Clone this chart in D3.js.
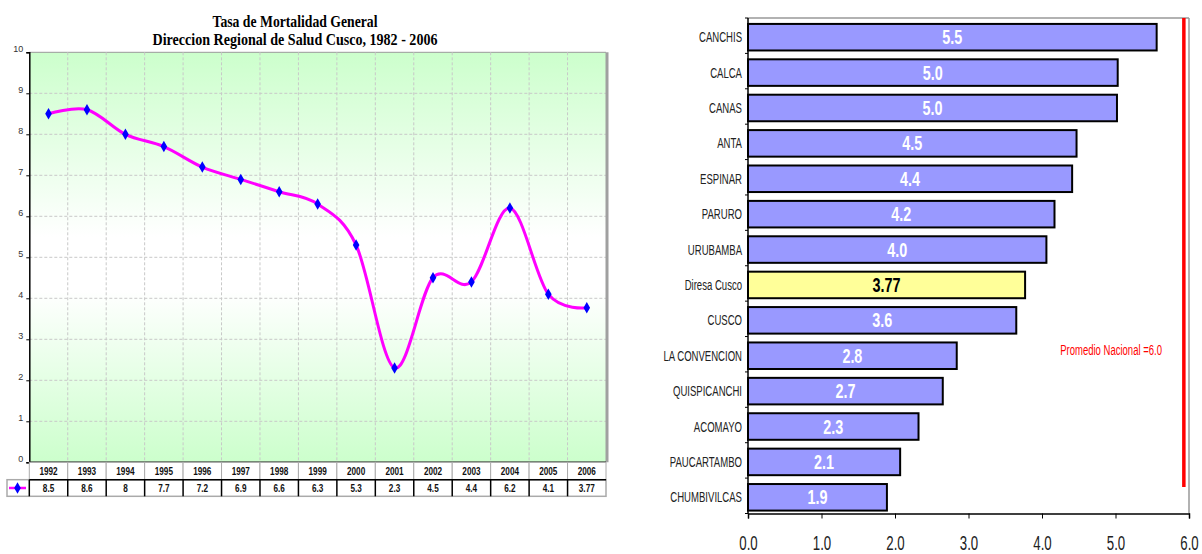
<!DOCTYPE html>
<html>
<head>
<meta charset="utf-8">
<script src="https://cdn.jsdelivr.net/npm/d3@7"></script>
<style>
  body { margin: 0; background: #fff; }
  svg { display: block; }
</style>
</head>
<body>
<div id="chart"></div>
<script>
// ---- left chart data ----
const years = ["1992","1993","1994","1995","1996","1997","1998","1999","2000","2001","2002","2003","2004","2005","2006"];
const rates = [8.5, 8.6, 8, 7.7, 7.2, 6.9, 6.6, 6.3, 5.3, 2.3, 4.5, 4.4, 6.2, 4.1, 3.77];
const yTicks = [0,1,2,3,4,5,6,7,8,9,10];
const titleLines = ["Tasa de Mortalidad General", "Direccion Regional de Salud Cusco, 1982 - 2006"];

// ---- right chart data ----
const provinces = ["CANCHIS","CALCA","CANAS","ANTA","ESPINAR","PARURO","URUBAMBA","Diresa Cusco","CUSCO","LA CONVENCION","QUISPICANCHI","ACOMAYO","PAUCARTAMBO","CHUMBIVILCAS"];
const provValues = [5.56, 5.03, 5.02, 4.47, 4.41, 4.17, 4.06, 3.77, 3.65, 2.84, 2.65, 2.32, 2.07, 1.89];
const provLabels = ["5.5","5.0","5.0","4.5","4.4","4.2","4.0","3.77","3.6","2.8","2.7","2.3","2.1","1.9"];
const xTicksRight = [0,1,2,3,4,5,6];
const nationalLine = [5.93];
const nationalText = "Promedio Nacional =6.0";

const sans = '"Liberation Sans", Arial, sans-serif';

// no Arial Narrow here: squeeze regular text horizontally instead
function squeeze(selection, sx){
    selection.each(function(){
        const t = d3.select(this);
        const x = +t.attr("x") || 0;
        const y = +t.attr("y") || 0;
        t.attr("x",0).attr("y",0)
         .attr("transform","translate("+x+","+y+") scale("+sx+",1)");
    });
}

const svg = d3.select("#chart").append("svg")
    .attr("width", 1202)
    .attr("height", 554);

// ================= LEFT: line chart =================
const defs = svg.append("defs");
const grad = defs.append("linearGradient")
    .attr("id","plotGrad")
    .attr("x1",0).attr("y1",0).attr("x2",0).attr("y2",1);
grad.append("stop").attr("offset","0%").attr("stop-color","#ccffcc");
grad.append("stop").attr("offset","45%").attr("stop-color","#ffffff");
grad.append("stop").attr("offset","58%").attr("stop-color","#ffffff");
grad.append("stop").attr("offset","100%").attr("stop-color","#ccffcc");

const xL = d3.scaleBand().domain(years).range([29.3, 606]).padding(0);
const yL = d3.scaleLinear().domain([0,10]).range([462.3, 52.3]);

const left = svg.append("g").attr("class","leftChart");

// plot background
left.append("rect")
    .attr("x", xL.range()[0]).attr("y", yL(10))
    .attr("width", xL.range()[1]-xL.range()[0])
    .attr("height", yL(0)-yL(10))
    .attr("fill","url(#plotGrad)");

// grid
left.append("g").selectAll("line.hgrid")
    .data(yTicks.filter(d=>d>0))
    .join("line")
    .attr("x1", xL.range()[0]).attr("x2", xL.range()[1])
    .attr("y1", d=>yL(d)).attr("y2", d=>yL(d))
    .attr("stroke", d=>d===10?"#999":"#c8c8c8")
    .attr("stroke-dasharray", d=>d===10?null:"3,2")
    .attr("stroke-width",1);
left.append("g").selectAll("line.vgrid")
    .data(years.slice(1))
    .join("line")
    .attr("x1", d=>xL(d)).attr("x2", d=>xL(d))
    .attr("y1", yL(10)).attr("y2", yL(0))
    .attr("stroke","#c8c8c8")
    .attr("stroke-dasharray","3,2");
// right border (shadow)
left.append("line")
    .attr("x1", xL.range()[1]+1).attr("x2", xL.range()[1]+1)
    .attr("y1", yL(10)).attr("y2", yL(0))
    .attr("stroke","#a0a0a0").attr("stroke-width",3);

// y axis
const yAxisL = left.append("g")
    .attr("transform","translate("+xL.range()[0]+",0)")
    .call(d3.axisLeft(yL).tickValues(yTicks).tickSize(3).tickFormat(d3.format("d")));
yAxisL.select(".domain").attr("stroke","#000").attr("stroke-width",1.5);
yAxisL.selectAll(".tick line").attr("stroke","#000");
yAxisL.selectAll(".tick text")
    .attr("x",-6).attr("dy","-0.1em")
    .attr("font-family",sans)
    .attr("font-size",9).attr("fill","#333");

// x axis line
left.append("line")
    .attr("x1", xL.range()[0]).attr("x2", xL.range()[1])
    .attr("y1", yL(0)).attr("y2", yL(0))
    .attr("stroke","#000").attr("stroke-width",1.5);

// line
const lineGen = d3.line()
    .x((d,i)=>xL(years[i])+xL.bandwidth()/2)
    .y(d=>yL(d))
    .curve(d3.curveCatmullRom.alpha(0));
left.append("path")
    .datum(rates)
    .attr("d", lineGen)
    .attr("fill","none")
    .attr("stroke","#ff00ff")
    .attr("stroke-width",3);

const diamond = d3.symbol().type(d3.symbolDiamond).size(38);
left.append("g").selectAll("path.marker")
    .data(rates)
    .join("path")
    .attr("class","marker")
    .attr("d", diamond)
    .attr("transform",(d,i)=>"translate("+(xL(years[i])+xL.bandwidth()/2)+","+yL(d)+")")
    .attr("fill","#0000ff");

// data table
const rowYear = [yL(0), 479.7];
const rowVal = [479.7, 496.3];
const tableG = left.append("g");
tableG.selectAll("rect.yearCell")
    .data(years)
    .join("rect")
    .attr("x", d=>xL(d)).attr("y", rowYear[0])
    .attr("width", xL.bandwidth()).attr("height", rowYear[1]-rowYear[0])
    .attr("fill","#fff").attr("stroke","#aaa").attr("stroke-width",1);
tableG.append("rect")
    .attr("x", 7).attr("y", rowVal[0])
    .attr("width", xL.range()[1]-7).attr("height", rowVal[1]-rowVal[0])
    .attr("fill","#fff").attr("stroke","#aaa").attr("stroke-width",1.5);
tableG.selectAll("line.valSep")
    .data(years)
    .join("line")
    .attr("x1", d=>xL(d)).attr("x2", d=>xL(d))
    .attr("y1", rowVal[0]).attr("y2", rowVal[1])
    .attr("stroke","#000").attr("stroke-width",1.5);
tableG.append("line")
    .attr("x1", xL.range()[0]).attr("x2", xL.range()[1])
    .attr("y1", rowVal[0]).attr("y2", rowVal[0])
    .attr("stroke","#000").attr("stroke-width",1.5);
tableG.selectAll("text.year")
    .data(years)
    .join("text")
    .attr("x", d=>xL(d)+xL.bandwidth()/2)
    .attr("y", (rowYear[0]+rowYear[1])/2+3.8)
    .attr("text-anchor","middle")
    .attr("font-family",sans).attr("font-weight","bold")
    .attr("font-size",10.5).attr("fill","#111")
    .text(d=>d)
    .call(squeeze,0.78);
tableG.selectAll("text.val")
    .data(rates)
    .join("text")
    .attr("x", (d,i)=>xL(years[i])+xL.bandwidth()/2)
    .attr("y", (rowVal[0]+rowVal[1])/2+3.8)
    .attr("text-anchor","middle")
    .attr("font-family",sans).attr("font-weight","bold")
    .attr("font-size",10.5).attr("fill","#111")
    .text(d=>d)
    .call(squeeze,0.78);
// legend key in table
const keyY = (rowVal[0]+rowVal[1])/2;
tableG.append("line")
    .attr("x1",9).attr("x2",26).attr("y1",keyY).attr("y2",keyY)
    .attr("stroke","#ff00ff").attr("stroke-width",2.5);
tableG.append("path")
    .attr("d", diamond)
    .attr("transform","translate(17.5,"+keyY+")")
    .attr("fill","#0000ff");

// title
left.selectAll("text.title")
    .data(titleLines)
    .join("text")
    .attr("x", 295)
    .attr("y", (d,i)=>i===0?26.5:45)
    .attr("text-anchor","middle")
    .attr("font-family",'"Liberation Serif", "Times New Roman", serif')
    .attr("font-weight","bold")
    .attr("font-size",17.5)
    .attr("textLength",(d,i)=>i===0?165:285)
    .attr("lengthAdjust","spacingAndGlyphs")
    .text(d=>d);

// ================= RIGHT: bar chart =================
const yR = d3.scaleBand().domain(provinces).range([18, 513.5]).paddingInner(0.25).paddingOuter(0.125);
const xR = d3.scaleLinear().domain([0,6]).range([748, 1189]);

const right = svg.append("g").attr("class","rightChart");

// frame (top / right gray)
right.append("line")
    .attr("x1", xR(0)).attr("x2", xR(6)).attr("y1", 18).attr("y2", 18)
    .attr("stroke","#999").attr("stroke-width",1.5);
right.append("line")
    .attr("x1", xR(6)).attr("x2", xR(6)).attr("y1", 18).attr("y2", 513.5)
    .attr("stroke","#999").attr("stroke-width",1.5);

// national average line
right.selectAll("line.nat")
    .data(nationalLine)
    .join("line")
    .attr("x1", d=>xR(d)).attr("x2", d=>xR(d))
    .attr("y1", 18).attr("y2", 487)
    .attr("stroke","#ff0000").attr("stroke-width",3.5);
right.append("text")
    .attr("x", 1162).attr("y", 355)
    .attr("text-anchor","end")
    .attr("font-family",sans).attr("font-size",14)
    .attr("fill","#ff0000")
    .text(nationalText)
    .call(squeeze,0.68);

// bars
const barG = right.selectAll("g.bar")
    .data(provinces.map((p,i)=>({name:p, value:provValues[i], label:provLabels[i]})))
    .join("g")
    .attr("class","bar");
barG.append("rect")
    .attr("x", xR(0))
    .attr("y", d=>yR(d.name)+1.5)
    .attr("width", d=>xR(d.value)-xR(0))
    .attr("height", yR.bandwidth())
    .attr("fill", d=>d.name==="Diresa Cusco"?"#ffff99":"#9999ff")
    .attr("stroke","#000").attr("stroke-width",2);
barG.append("text")
    .attr("x", d=>(xR(0)+xR(d.value))/2)
    .attr("y", d=>yR(d.name)+1.5+yR.bandwidth()/2+7)
    .attr("text-anchor","middle")
    .attr("font-family",sans).attr("font-weight","bold")
    .attr("font-size",20)
    .attr("fill", d=>d.name==="Diresa Cusco"?"#000":"#fff")
    .text(d=>d.label)
    .call(squeeze,0.72);

// y axis (category labels + ticks at band edges)
right.append("line")
    .attr("x1", xR(0)).attr("x2", xR(0)).attr("y1", 18).attr("y2", 513.5)
    .attr("stroke","#000").attr("stroke-width",1.5);
const step = yR.step();
right.selectAll("line.ytick")
    .data(d3.range(provinces.length+1))
    .join("line")
    .attr("x1", xR(0)-3).attr("x2", xR(0))
    .attr("y1", i=>18+i*step).attr("y2", i=>18+i*step)
    .attr("stroke","#000");
right.selectAll("text.cat")
    .data(provinces)
    .join("text")
    .attr("x", xR(0)-6)
    .attr("y", d=>yR(d)+1.5+yR.bandwidth()/2+5)
    .attr("text-anchor","end")
    .attr("font-family",sans).attr("font-size",14.5)
    .attr("fill","#222")
    .text(d=>d)
    .call(squeeze,0.66);

// x axis
const xAxisR = right.append("g")
    .attr("transform","translate(0,513.5)")
    .call(d3.axisBottom(xR).tickValues(xTicksRight).tickSize(5).tickFormat(d3.format(".1f")));
xAxisR.select(".domain").attr("stroke","#000").attr("stroke-width",1.5);
xAxisR.selectAll(".tick line").attr("stroke","#000");
xAxisR.selectAll(".tick text")
    .attr("y", 23)
    .attr("font-family",sans).attr("font-size",19.5)
    .attr("fill","#222")
    .call(squeeze,0.68);
</script>
</body>
</html>
